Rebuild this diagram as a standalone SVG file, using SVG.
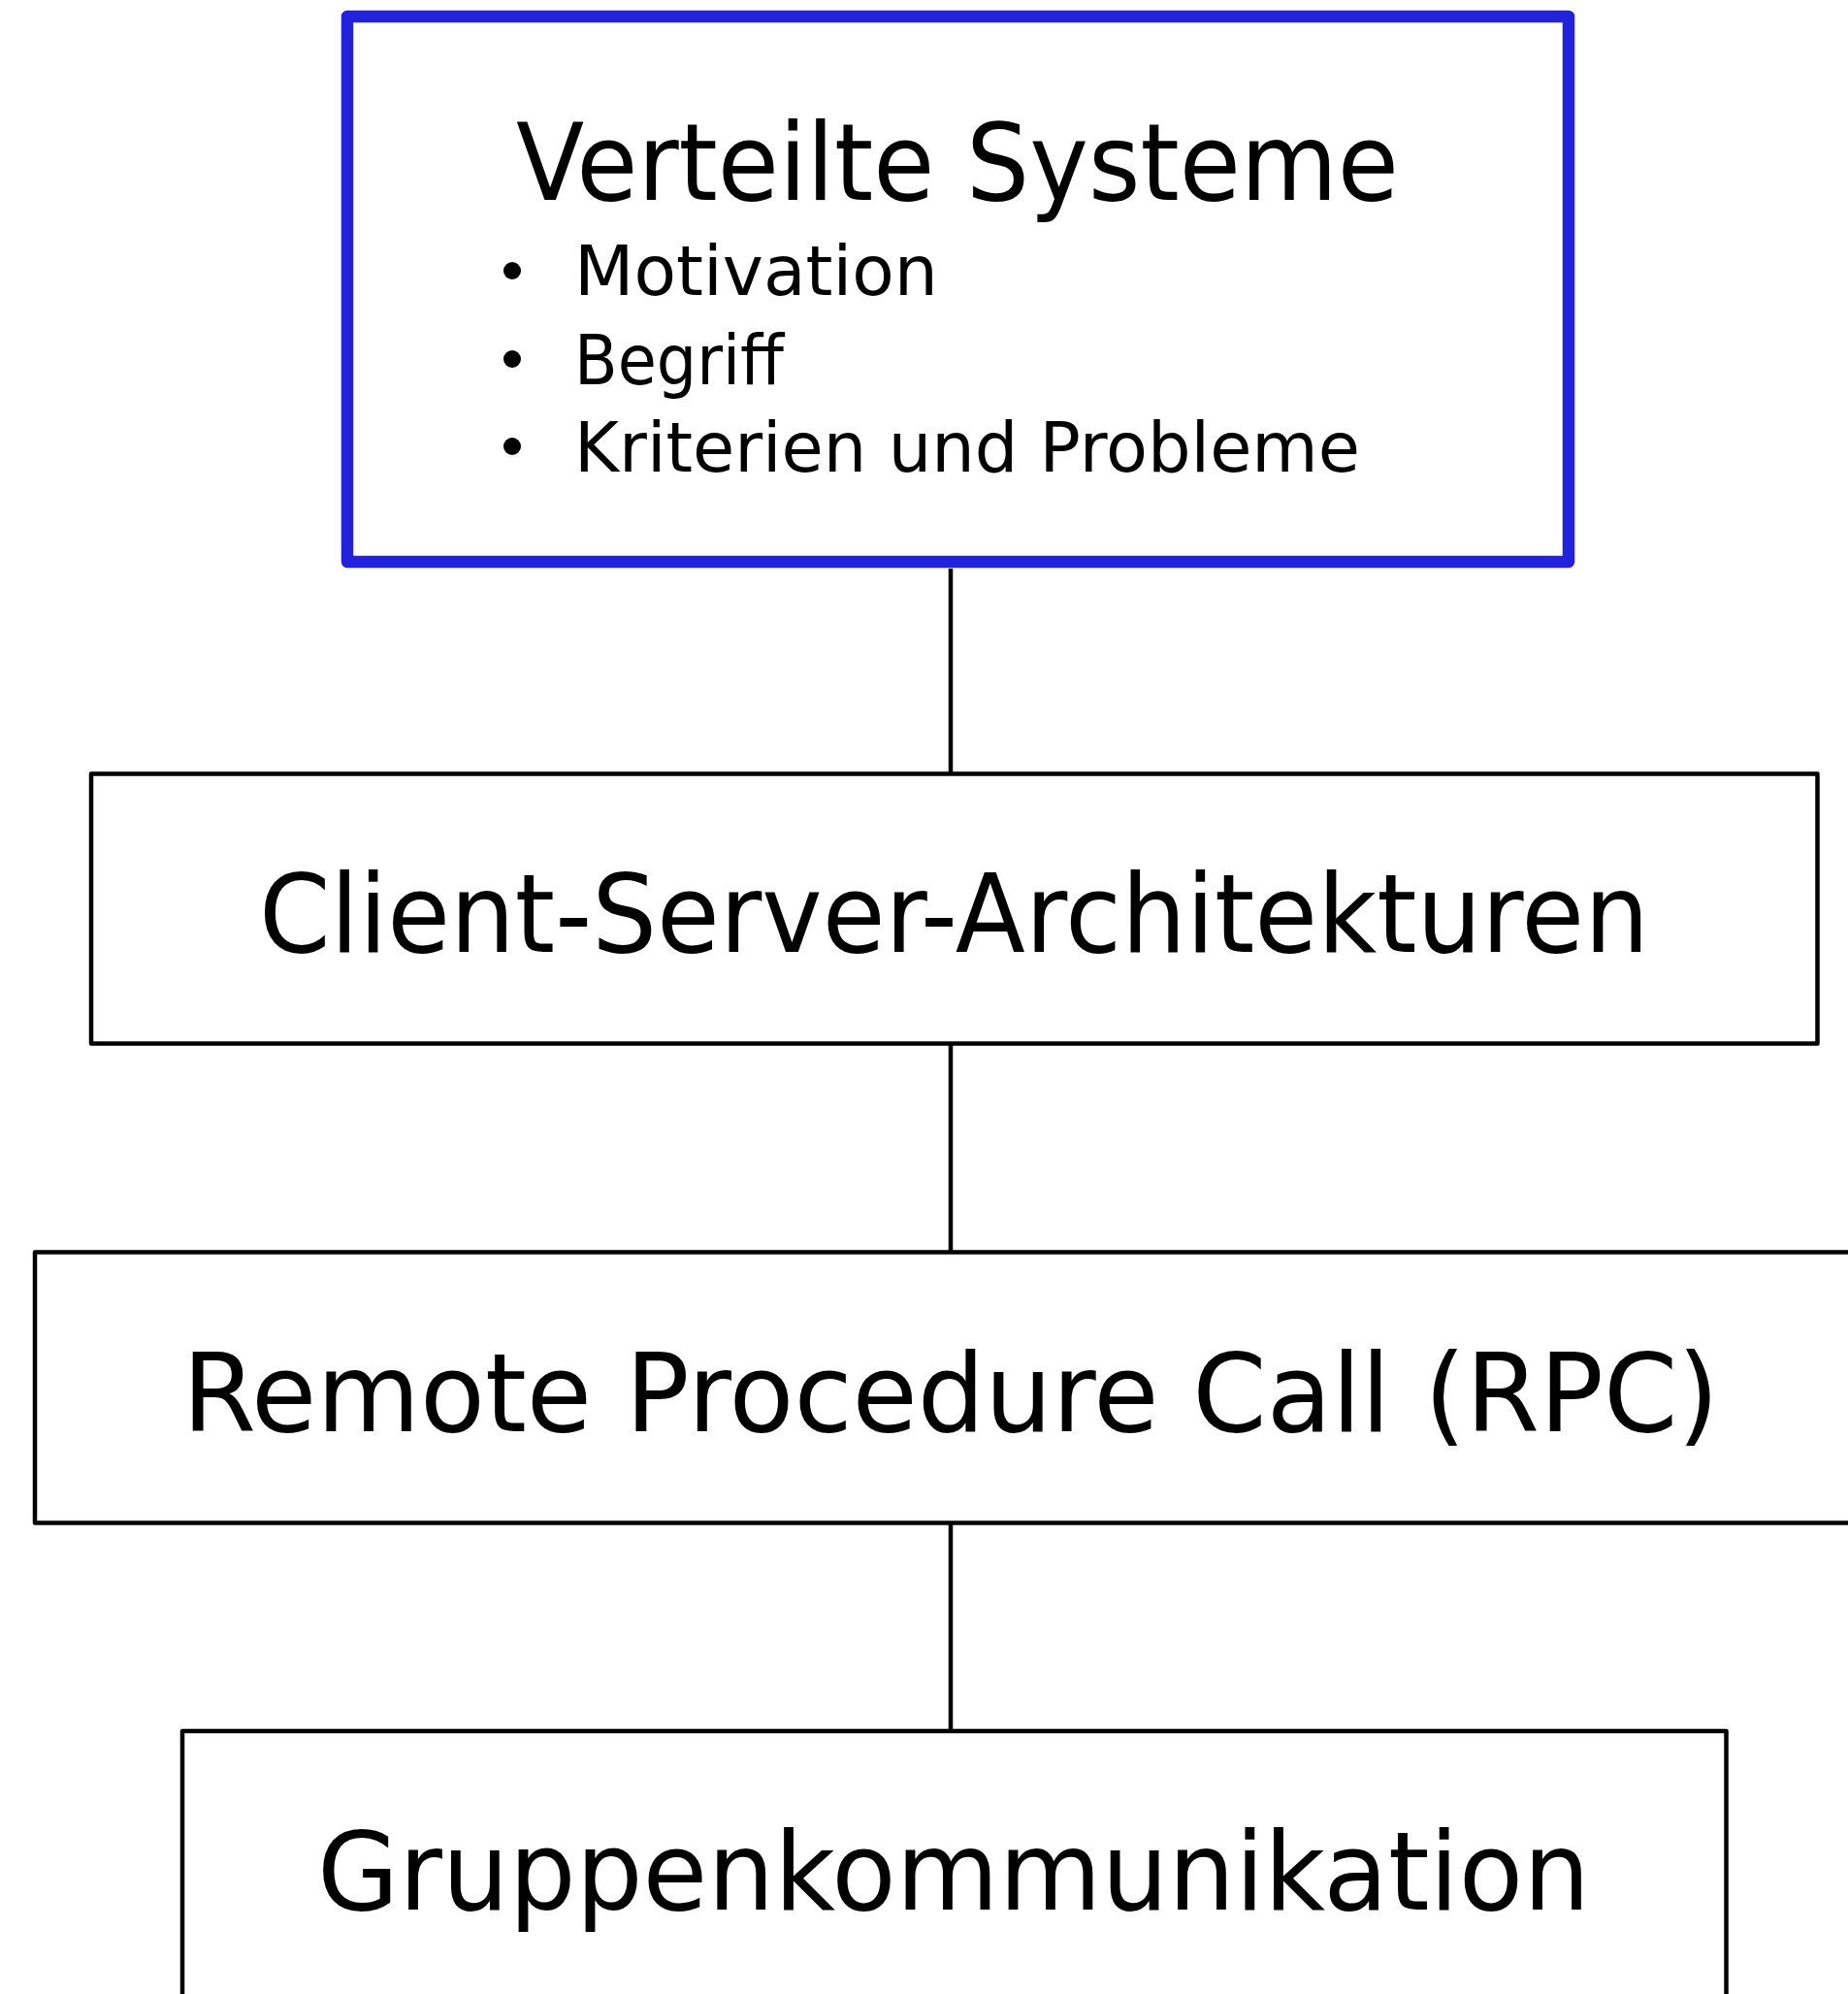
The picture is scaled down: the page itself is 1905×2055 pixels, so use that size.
<svg xmlns="http://www.w3.org/2000/svg" width="1905" height="2055" viewBox="0 0 1905 2055">
<style>
  text { font-family: "DejaVu Sans", "Liberation Sans", sans-serif; fill: #000; }
  .box { fill: #fff; stroke: #000; stroke-width: 4.5; stroke-linejoin: round; }
  .main { fill: #fff; stroke: #2222dd; stroke-width: 12.5; stroke-linejoin: round; }
  .conn { stroke: #000; stroke-width: 4.5; fill: none; }
  .big { font-size: 113px; }
  .title { font-size: 110px; }
  .item { font-size: 72px; }
</style>
<rect width="1905" height="2055" fill="#fff"/>
<g id="connectors">
  <line class="conn" x1="980" y1="586" x2="980" y2="797.5"/>
  <line class="conn" x1="980" y1="1075.5" x2="980" y2="1290.5"/>
  <line class="conn" x1="980" y1="1569.5" x2="980" y2="1784"/>
</g>
<g id="node-verteilte-systeme">
  <rect class="main" x="358" y="17" width="1259" height="562"/>
  <text class="title" x="532" y="206" textLength="910" lengthAdjust="spacingAndGlyphs">Verteilte Systeme</text>
  <circle cx="528" cy="279" r="9"/>
  <text class="item" x="592" y="304" textLength="375" lengthAdjust="spacingAndGlyphs">Motivation</text>
  <circle cx="528" cy="370" r="9"/>
  <text class="item" x="592" y="396" textLength="216" lengthAdjust="spacingAndGlyphs">Begriff</text>
  <circle cx="528" cy="460" r="9"/>
  <text class="item" x="592" y="486" textLength="810" lengthAdjust="spacingAndGlyphs">Kriterien und Probleme</text>
</g>
<g id="node-client-server">
  <rect class="box" x="94" y="797.5" width="1779.5" height="278"/>
  <text class="big" x="267" y="981" textLength="1433" lengthAdjust="spacingAndGlyphs">Client-Server-Architekturen</text>
</g>
<g id="node-rpc">
  <rect class="box" x="36" y="1290.5" width="1890" height="279"/>
  <text class="big" x="188" y="1475" textLength="1584" lengthAdjust="spacingAndGlyphs">Remote Procedure Call (RPC)</text>
</g>
<g id="node-gruppenkommunikation">
  <rect class="box" x="188" y="1784" width="1591.5" height="300"/>
  <text class="big" x="327" y="1968" textLength="1312" lengthAdjust="spacingAndGlyphs">Gruppenkommunikation</text>
</g>
</svg>
